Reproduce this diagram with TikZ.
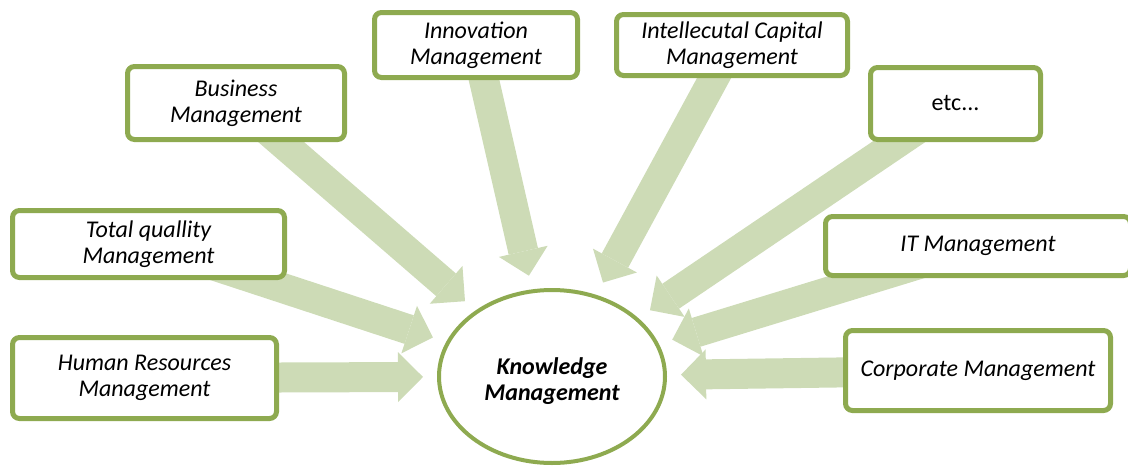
\documentclass[tikz,border=0pt]{standalone}
\usepackage{fontspec}
\setmainfont{Carlito}
\usetikzlibrary{positioning,arrows.meta,shapes.geometric,backgrounds}

\definecolor{kmborder}{RGB}{142,170,80}
\definecolor{kmarrow}{RGB}{205,219,182}

\begin{document}
\begin{tikzpicture}[x=1pt,y=-1pt,
	area/.style={draw=kmborder,line width=5pt,rounded corners=7pt,fill=white,
		align=center,inner sep=0pt,font=\fontsize{24}{26}\selectfont\itshape},
	flow/.style={draw=kmarrow,line width=30pt,shorten >=14pt,
		-{Triangle[length=25pt,width=50pt,line width=0pt]}}
	]
			
			\clip (0,0) rectangle (1128,466);
			
			% central ellipse
			\node[ellipse,draw=kmborder,line width=4pt,fill=white,inner sep=0pt,
				minimum width=226pt,minimum height=173pt,
				font=\fontsize{24}{26}\selectfont\bfseries\itshape] (km) at (552,376.5)
				{\raisebox{-6pt}[\height][\depth]{\begin{tabular}{@{}c@{}}Knowledge\\Management\end{tabular}}};
			
			% surrounding fields
			\node[area,minimum width=264pt,minimum height=81pt] (hrm) at (144.5,378) {Human Resources\\Management};
			\node[area,minimum width=272pt,minimum height=67pt] (tqm) at (148.5,244) {Total quallity\\Management};
			\node[area,minimum width=217pt,minimum height=73pt] (bm) at (236,103) {Business\\Management};
			\node[area,minimum width=203pt,minimum height=65pt] (inm) at (476,45) {Innovation\\Management};
			\node[area,minimum width=231pt,minimum height=61pt] (icm) at (732,45) {Intellecutal Capital\\Management};
			\node[area,minimum width=170pt,minimum height=72pt,
				font=\fontsize{24}{26}\selectfont\upshape] (etcbox) at (955.5,103.5) {etc...};
			\node[area,minimum width=305pt,minimum height=59pt] (itm) at (978,246) {IT Management};
			\node[area,minimum width=265pt,minimum height=80pt] (cpm) at (978,370.5) {Corporate Management};
			
			% arrows towards the centre
			\begin{scope}[on background layer]
				\foreach \src in {hrm,tqm,bm,inm,icm,etcbox,itm,cpm}
				{
					\draw[flow] (\src.center) -- (km);
				}
			\end{scope}
			
		\end{tikzpicture}
\end{document}
